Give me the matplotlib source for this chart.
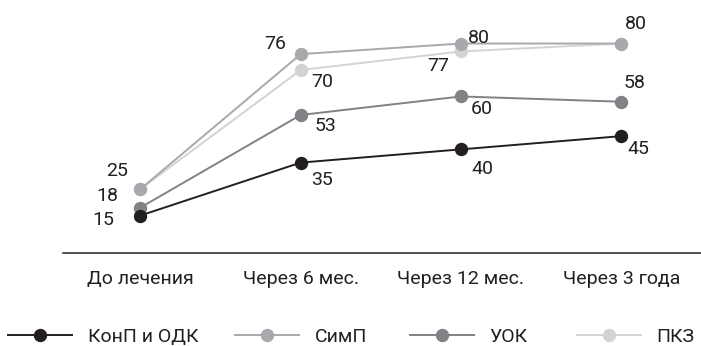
import matplotlib.pyplot as plt

plt.rcParams['font.family'] = ['Roboto', 'DejaVu Sans']

periods = ["До лечения", "Через 6 мес.", "Через 12 мес.", "Через 3 года"]

konp_odk = [15, 35, 40, 45]
simp = [25, 76, 80, 80]
uok = [18, 53, 60, 58]
pkz = [25, 70, 77, 80]

series_names = ["КонП и ОДК", "СимП", "УОК", "ПКЗ"]
series_values = [konp_odk, simp, uok, pkz]
colors = ["#231f20", "#a7a9ac", "#808285", "#d1d3d4"]
zorders = [5, 4, 3, 2]

# смещения подписей значений в пикселях (x вправо, y вниз); None - без подписи
label_offsets = [
    [(-37, 4), (21, 17), (21, 20), (17, 13)],
    [(-23, -18), (-25, -10), (18, -6), (15, -20)],
    [(-33, -12), (25, 11), (21, 13), (13, -19)],
    [None, (22, 12), (-23, 15), None],
]
# левый край каждого элемента легенды, px
legend_x = [8, 235, 410, 577]

W, H = 701, 346
fig = plt.figure(figsize=(W / 100, H / 100), dpi=100)
ax = fig.add_axes([63 / W, 1 - 253 / H, 1 - 63 / W, 253 / H])

x = range(len(periods))
lines = []
for name, vals, col, z, offs in zip(series_names, series_values, colors, zorders, label_offsets):
    ln, = ax.plot(x, vals, color=col, lw=1.4, marker='o', markersize=8.6,
                  label=name, zorder=z, clip_on=False)
    lines.append(ln)
    for xi, v, off in zip(x, vals, offs):
        if off is None:
            continue
        ax.annotate(str(v), (xi, v), xytext=(off[0] * 0.72, -off[1] * 0.72),
                    textcoords='offset points', ha='center', va='center',
                    fontsize=14, color='#231f20', zorder=10)

ax.set_xlim(-0.483, 3.497)
ax.set_ylim(0.83, 96.45)
ax.set_xticks(list(x))
ax.set_xticklabels(periods, fontsize=14, color='#231f20')
ax.tick_params(axis='x', length=0, pad=12)
ax.set_yticks([])
for side in ['top', 'right', 'left']:
    ax.spines[side].set_visible(False)
ax.spines['bottom'].set_color('#231f20')
ax.spines['bottom'].set_linewidth(1.1)

# легенда: каждый элемент ставится отдельно
for ln, name, lx in zip(lines, series_names, legend_x):
    fig.legend(handles=[ln], labels=[name], loc='center left',
               bbox_to_anchor=(lx / W, 1 - 337 / H), frameon=False,
               fontsize=14, handlelength=3.3, handletextpad=0.8,
               borderpad=0, borderaxespad=0, labelcolor='#231f20')

fig.savefig("out.png", dpi=100)
